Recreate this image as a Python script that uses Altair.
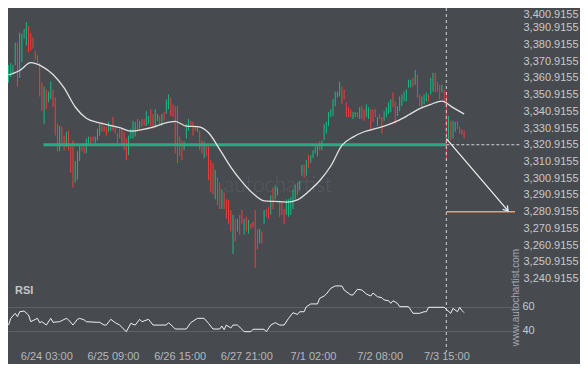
import altair as alt
import pandas as pd

# ---------------- data ----------------
high = [
    3368.6, 3369.7, 3368.6, 3382.0, 3382.0, 3387.9, 3387.3, 3390.2, 3394.3, 3392.0,
    3387.9, 3385.0, 3377.3, 3374.4, 3369.7, 3358.0, 3355.7, 3353.9, 3352.7, 3358.6,
    3353.9, 3349.2, 3333.4, 3332.2, 3331.7, 3326.4, 3328.7, 3329.3, 3319.9, 3323.5,
    3311.2, 3317.0, 3320.5, 3319.9, 3319.9, 3324.6, 3325.8, 3325.8, 3325.8, 3325.8,
    3330.5, 3333.4, 3334.6, 3332.2, 3331.7, 3334.6, 3332.2, 3337.5, 3331.7, 3327.6,
    3330.5, 3330.5, 3328.7, 3324.6, 3326.4, 3330.5, 3335.2, 3334.6, 3336.3, 3335.2,
    3336.3, 3336.3, 3341.0, 3338.1, 3342.2, 3339.3, 3342.2, 3339.3, 3338.1, 3339.3,
    3340.4, 3348.1, 3351.0, 3349.2, 3345.1, 3344.0, 3344.0, 3325.8, 3323.5, 3322.9,
    3333.4, 3336.3, 3335.2, 3334.6, 3332.2, 3331.7, 3329.3, 3323.5, 3322.9, 3320.5,
    3319.9, 3311.7, 3310.0, 3305.9, 3301.2, 3298.3, 3294.2, 3292.4, 3288.3, 3287.7,
    3281.9, 3279.0, 3276.6, 3276.6, 3279.0, 3281.9, 3276.6, 3277.8, 3276.0, 3273.7,
    3274.8, 3281.9, 3270.2, 3270.7, 3269.0, 3281.9, 3282.5, 3283.6, 3290.7, 3295.3,
    3296.5, 3295.3, 3287.7, 3286.6, 3282.5, 3288.3, 3288.3, 3289.5, 3294.2, 3297.1,
    3298.3, 3299.4, 3308.8, 3308.8, 3311.7, 3314.7, 3314.7, 3317.6, 3319.9, 3320.5,
    3322.9, 3323.5, 3333.4, 3334.6, 3340.4, 3342.2, 3348.1, 3352.7, 3352.7, 3358.6,
    3355.7, 3353.9, 3346.3, 3343.4, 3342.2, 3340.4, 3340.4, 3340.4, 3343.4, 3344.0,
    3342.2, 3345.1, 3343.4, 3342.2, 3342.2, 3342.2, 3337.5, 3339.3, 3337.5, 3341.0,
    3343.4, 3346.3, 3348.1, 3352.2, 3346.9, 3344.0, 3349.8, 3351.0, 3352.7, 3353.9,
    3359.8, 3359.8, 3360.9, 3365.6, 3362.7, 3351.0, 3349.8, 3351.0, 3352.2, 3351.0,
    3360.9, 3363.9, 3363.9, 3358.6, 3356.8, 3356.8, 3353.9, 3352.7, 3338.1, 3335.2,
    3335.2, 3334.6, 3335.2, 3331.7, 3330.0, 3329.3,
]
low = [
    3358.0, 3361.5, 3362.7, 3368.6, 3355.7, 3360.9, 3370.3, 3384.4, 3380.3, 3376.2,
    3377.3, 3378.5, 3371.5, 3369.7, 3349.8, 3341.0, 3333.4, 3342.2, 3346.3, 3348.1,
    3343.4, 3326.4, 3317.0, 3317.0, 3319.9, 3317.6, 3319.9, 3317.6, 3304.1, 3295.3,
    3298.3, 3300.0, 3311.2, 3317.0, 3315.8, 3315.8, 3321.7, 3321.7, 3322.9, 3321.7,
    3323.5, 3326.4, 3328.7, 3328.7, 3326.4, 3328.7, 3329.3, 3329.3, 3327.6, 3321.7,
    3324.6, 3320.5, 3317.6, 3311.7, 3314.7, 3324.6, 3324.6, 3325.8, 3328.7, 3330.5,
    3331.7, 3332.2, 3332.2, 3333.4, 3332.2, 3330.5, 3332.2, 3335.2, 3333.4, 3332.2,
    3335.2, 3339.3, 3342.2, 3338.1, 3337.5, 3315.8, 3310.0, 3314.1, 3311.7, 3317.6,
    3324.6, 3329.3, 3332.2, 3326.4, 3329.3, 3328.7, 3317.6, 3315.8, 3312.9, 3314.1,
    3300.0, 3292.4, 3291.2, 3288.3, 3284.8, 3282.5, 3282.5, 3282.5, 3276.6, 3273.7,
    3269.0, 3255.5, 3263.1, 3269.0, 3267.2, 3273.7, 3267.2, 3269.0, 3267.8, 3270.7,
    3271.3, 3247.3, 3258.4, 3261.9, 3261.9, 3273.7, 3277.8, 3276.6, 3279.0, 3282.5,
    3288.3, 3290.7, 3277.8, 3279.0, 3273.7, 3279.0, 3277.8, 3279.0, 3282.5, 3288.3,
    3290.7, 3293.6, 3302.4, 3301.2, 3302.4, 3307.1, 3310.0, 3312.9, 3315.8, 3314.1,
    3317.6, 3317.6, 3323.5, 3327.6, 3332.2, 3337.5, 3338.1, 3344.0, 3349.2, 3349.8,
    3345.1, 3348.1, 3337.5, 3337.5, 3337.5, 3336.3, 3337.5, 3337.5, 3336.3, 3336.3,
    3335.2, 3337.5, 3336.3, 3329.3, 3334.6, 3337.5, 3332.2, 3336.3, 3327.6, 3335.2,
    3337.5, 3339.3, 3340.4, 3343.4, 3333.4, 3338.1, 3341.0, 3344.0, 3346.9, 3346.9,
    3355.1, 3355.1, 3355.7, 3356.8, 3349.2, 3344.0, 3343.4, 3345.1, 3346.9, 3346.9,
    3351.0, 3352.7, 3352.2, 3352.7, 3348.1, 3352.2, 3346.3, 3311.7, 3323.5, 3323.5,
    3324.6, 3328.7, 3330.5, 3327.6, 3327.0, 3324.6,
]
# candle direction: u = up (green), d = down (red)
dirs = list(
    "uuuuduuuud" "dddddduduu" "dddudduddd" "uuudduuddu" "uuddduuddd"
    "dddduuuudu" "dduudduudu" "duuddddddu" "uuddduddud" "dddudduddd"
    "dududdudud" "dddududdud" "uuddduuuuu" "duududuuuu" "duuuuuuuuu"
    "ddddduudud" "duuddduddu" "uuudduuuuu" "uududduuud" "uuddduddud"
    "uudddd"
)

ma_idx = list(range(0, 206, 5))
ma_val = [
    3362.7, 3365.3, 3370.0, 3367.8, 3362.9, 3354.9, 3343.5, 3336.8, 3334.3, 3332.7,
    3331.1, 3329.1, 3329.9, 3331.4, 3333.7, 3334.9, 3332.0, 3331.7, 3328.1, 3318.2,
    3307.6, 3298.9, 3291.8, 3287.4, 3287.0, 3286.6, 3288.0, 3293.0, 3299.4, 3308.2,
    3320.5, 3325.5, 3328.7, 3330.5, 3332.5, 3335.2, 3338.7, 3342.5, 3345.1, 3347.0,
    3343.1, 3339.3,
]

rsi_idx = [
    0, 1, 3, 4, 5, 7, 9, 10, 13, 14, 15, 17, 19, 20, 23, 26, 27, 29, 31, 32,
    34, 35, 40, 41, 43, 44, 46, 48, 50, 53, 55, 57, 59, 60, 63, 65, 71, 72, 74, 75,
    80, 82, 85, 88, 90, 92, 95, 96, 97, 98, 100, 101, 103, 105, 106, 109, 110, 115, 116, 118,
    120, 122, 124, 126, 128, 130, 131, 133, 134, 136, 139, 140, 142, 143, 145, 147, 150, 151, 154, 155,
    157, 159, 161, 163, 164, 166, 168, 169, 171, 172, 173, 175, 176, 180, 182, 185, 187, 188, 189, 196,
    197, 199, 200, 202, 203, 204, 205,
]
rsi_val = [
    44.7, 50.3, 54.5, 51.7, 55.8, 56.4, 53.1, 47.5, 50.3, 46.7, 47.5, 44.7, 50.3, 47.0, 47.5, 50.3, 49.0, 44.7, 49.5, 50.3,
    49.0, 47.5, 47.0, 47.0, 44.7, 44.7, 49.5, 46.7, 44.7, 39.2, 46.1, 44.7, 49.5, 47.5, 49.5, 44.7, 44.7, 46.7, 43.3, 41.4,
    41.4, 46.7, 50.3, 50.3, 46.1, 41.4, 41.4, 43.9, 40.8, 44.7, 42.2, 44.7, 44.7, 41.2, 39.2, 39.2, 41.2, 41.2, 39.2, 44.7,
    46.7, 44.7, 44.7, 50.3, 55.0, 53.5, 55.8, 55.8, 60.0, 62.3, 62.3, 67.0, 68.9, 70.6, 75.3, 77.3, 77.3, 73.9, 69.8, 69.8,
    74.5, 73.9, 70.6, 68.9, 71.4, 68.3, 67.5, 65.6, 65.0, 62.8, 65.0, 62.8, 60.0, 60.0, 54.5, 54.5, 55.8, 55.8, 59.5, 59.5,
    57.8, 54.5, 58.6, 55.8, 59.5, 56.9, 55.0,
]

time_labels = ["6/24 03:00", "6/25 09:00", "6/26 15:00", "6/27 21:00", "7/1 02:00", "7/2 08:00", "7/3 15:00"]
time_label_idx = [17, 47, 77, 107, 137, 167, 197]
price_ticks = [3240.9155, 3250.9155, 3260.9155, 3270.9155, 3280.9155, 3290.9155, 3300.9155,
               3310.9155, 3320.9155, 3330.9155, 3340.9155, 3350.9155, 3360.9155, 3370.9155,
               3380.9155, 3390.9155, 3400.9155]
rsi_ticks = [40, 60]

support_price = 3320.9155
support_start, support_end = 15.7, 197
signal_idx = 197
target_price = 3280.9155
target_end_idx = 227.9
arrow_start_price = 3324.6
arrow_end_idx, arrow_end_price = 224.8, 3281.3

assert len(high) == len(low) == len(dirs) == 206
assert len(ma_idx) == len(ma_val) and len(rsi_idx) == len(rsi_val)

# ---------------- styling ----------------
BG = "#474a4f"
GREEN = "#16bd85"
RED = "#f43c3c"
LABEL = "#c6c9cd"
FONT = "Liberation Sans"
W, H = 512, 340
X_MAX = 230.15

candles = pd.DataFrame({"i": list(range(len(high))), "high": high, "low": low, "dir": dirs})
ma = pd.DataFrame({"i": ma_idx, "v": ma_val})
rsi = pd.DataFrame({"i": rsi_idx, "v": rsi_val})

xscale = alt.Scale(domain=[-0.25, X_MAX], nice=False, zero=False)
lab_arr = "[" + ",".join("'" + t + "'" for t in time_labels) + "]"
idx_arr = "[" + ",".join(str(v) for v in time_label_idx) + "]"
xaxis = alt.Axis(values=time_label_idx, labelExpr=f"{lab_arr}[indexof({idx_arr}, datum.value)]",
                 title=None, domain=False, ticks=False, tickSize=0, grid=False, labelOverlap=False,
                 labelColor="#b4b8bc", labelFont=FONT, labelFontSize=11, labelPadding=2)

pscale = alt.Scale(domain=[3240.9155, 3400.9155], range=[270.5, 3], nice=False, zero=False)
paxis = alt.Axis(orient="right", values=price_ticks, format=",.4f", title=None, domain=False,
                 ticks=False, tickSize=0, grid=False, labelOverlap=False, labelColor=LABEL,
                 labelFont=FONT, labelFontSize=11, labelPadding=3,
                 labelOffset={"condition": {"test": "datum.value > 3400", "value": 3.5}, "value": 0})

rscale = alt.Scale(domain=[40, 60], range=[322.7, 298.7], nice=False, zero=False)
raxis = alt.Axis(orient="right", values=rsi_ticks, title=None, domain=False, ticks=False, tickSize=0,
                 grid=True, gridColor="#5e6268", gridWidth=1, labelOverlap=False, labelColor=LABEL,
                 labelFont=FONT, labelFontSize=11, labelPadding=2)


def X(field):
    return alt.X(field, type="quantitative", scale=xscale, axis=xaxis)


def PY(field):
    return alt.Y(field, type="quantitative", scale=pscale, axis=paxis)


# watermark
watermark = alt.Chart(pd.DataFrame({"t": ["autochartist"]})).mark_text(
    font="Lato", fontSize=21, fontWeight=300, color="#56595e", align="center", baseline="middle"
).encode(text="t:N", x=alt.value(270), y=alt.value(178))

candle_rules = alt.Chart(candles).mark_rule(strokeWidth=1).encode(
    x=X("i"), y=PY("high"), y2="low",
    color=alt.Color("dir:N", scale=alt.Scale(domain=["u", "d"], range=[GREEN, RED]), legend=None),
)

support = alt.Chart(pd.DataFrame({"a": [support_start], "b": [support_end], "p": [support_price]})).mark_rule(
    color="#26b086", strokeWidth=3, opacity=0.95
).encode(x=X("a"), x2="b", y=PY("p"))

ma_line = alt.Chart(ma).mark_line(color="#e2e2e2", strokeWidth=1.3, interpolate="monotone").encode(
    x=X("i"), y=PY("v"))

dash_h = alt.Chart(pd.DataFrame({"a": [signal_idx], "b": [X_MAX], "p": [support_price]})).mark_rule(
    color="#cfd2d6", strokeWidth=1, strokeDash=[3, 2]
).encode(x=X("a"), x2="b", y=PY("p"))

target = alt.Chart(pd.DataFrame({"a": [signal_idx], "b": [target_end_idx], "p": [target_price]})).mark_rule(
    color="#f29b62", strokeWidth=1.5
).encode(x=X("a"), x2="b", y=PY("p"))

arrow = alt.Chart(pd.DataFrame({"a": [signal_idx], "b": [arrow_end_idx],
                                "p": [arrow_start_price], "q": [arrow_end_price]})).mark_rule(
    color="#f2f2f2", strokeWidth=1.2
).encode(x=X("a"), x2="b", y=PY("p"), y2="q")

arrow_head = alt.Chart(pd.DataFrame({"b": [arrow_end_idx], "q": [arrow_end_price]})).mark_point(
    shape="M-1,-0.65L0,0L-1,0.65", filled=False, stroke="#f2f2f2", strokeWidth=1.2, size=90, angle=49,
    opacity=1
).encode(x=X("b"), y=PY("q"))

vline = alt.Chart(pd.DataFrame({"a": [signal_idx]})).mark_rule(
    color="#d0d3d6", strokeWidth=1, strokeDash=[3, 3]
).encode(x=X("a"), y=alt.value(0), y2=alt.value(344))

price_layer = alt.layer(watermark, candle_rules, support, ma_line, dash_h, target, arrow, arrow_head, vline)

rsi_line = alt.Chart(rsi).mark_line(color="#f0f0f0", strokeWidth=1).encode(
    x=X("i"), y=alt.Y("v", type="quantitative", scale=rscale, axis=raxis))

rsi_title = alt.Chart(pd.DataFrame({"t": ["RSI"]})).mark_text(
    font=FONT, fontSize=11, fontWeight="bold", color="#c3c6ca", align="left", baseline="middle"
).encode(text="t:N", x=alt.value(7), y=alt.value(283))

site = alt.Chart(pd.DataFrame({"t": ["www.autochartist.com"]})).mark_text(
    font=FONT, fontSize=10, color="#a3a7ab", angle=270, align="center", baseline="middle"
).encode(text="t:N", x=alt.value(507.5), y=alt.value(289.5))

rsi_layer = alt.layer(rsi_line, rsi_title, site)

chart = alt.layer(price_layer, rsi_layer).resolve_scale(y="independent").properties(
    width=W, height=H,
    padding={"left": 0, "top": 0, "right": 60, "bottom": 16},
    autosize=alt.AutoSizeParams(type="none"),
).configure(background=BG).configure_view(stroke=None)

chart.save("out.html", embed_options={"renderer": "svg", "actions": False})
